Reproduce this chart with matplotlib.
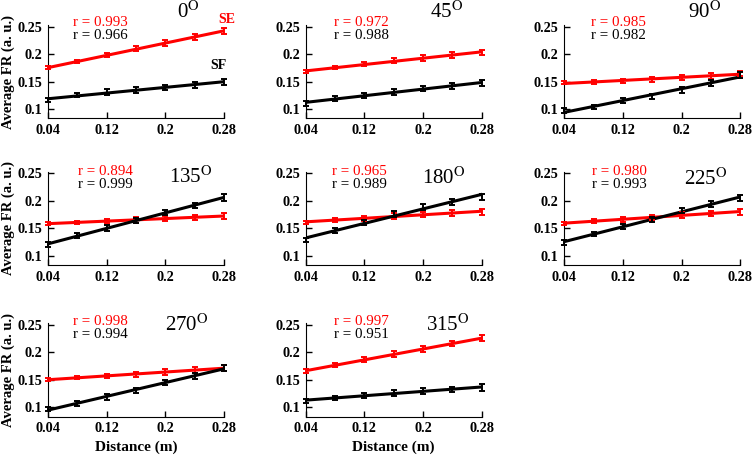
import numpy as np
import matplotlib
matplotlib.use('Agg')
import matplotlib.pyplot as plt

plt.rcParams['font.family'] = 'Liberation Serif'
plt.rcParams['mathtext.fontset'] = 'stix'

distance = [0.04, 0.08, 0.12, 0.16, 0.20, 0.24, 0.28]
angles = ['0', '45', '90', '135', '180', '225', '270', '315']

r_se = ['0.993', '0.972', '0.985', '0.894', '0.965', '0.980', '0.998', '0.997']
r_sf = ['0.966', '0.988', '0.982', '0.999', '0.989', '0.993', '0.994', '0.951']

# mean firing rate per distance, SE (red) and SF (black)
se_0 = [0.175, 0.186, 0.198, 0.210, 0.220, 0.231, 0.242]
sf_0 = [0.116, 0.125, 0.131, 0.135, 0.139, 0.144, 0.149]
se_45 = [0.168, 0.175, 0.182, 0.188, 0.193, 0.198, 0.203]
sf_45 = [0.110, 0.119, 0.125, 0.131, 0.137, 0.142, 0.147]
se_90 = [0.148, 0.149, 0.151, 0.154, 0.157, 0.160, 0.165]
sf_90 = [0.097, 0.104, 0.115, 0.123, 0.135, 0.147, 0.162]
se_135 = [0.158, 0.161, 0.163, 0.165, 0.168, 0.170, 0.172]
sf_135 = [0.120, 0.137, 0.150, 0.164, 0.179, 0.191, 0.206]
se_180 = [0.161, 0.165, 0.168, 0.172, 0.175, 0.178, 0.180]
sf_180 = [0.128, 0.146, 0.160, 0.176, 0.189, 0.198, 0.207]
se_225 = [0.159, 0.163, 0.166, 0.170, 0.174, 0.177, 0.180]
sf_225 = [0.124, 0.140, 0.153, 0.166, 0.182, 0.194, 0.205]
se_270 = [0.151, 0.154, 0.157, 0.160, 0.164, 0.168, 0.172]
sf_270 = [0.097, 0.107, 0.119, 0.131, 0.145, 0.157, 0.172]
se_315 = [0.166, 0.177, 0.187, 0.197, 0.206, 0.216, 0.226]
sf_315 = [0.112, 0.117, 0.122, 0.126, 0.130, 0.133, 0.136]

se_err = [0.003, 0.003, 0.004, 0.005, 0.005, 0.005, 0.005]
sf_err = [0.004, 0.004, 0.005, 0.005, 0.005, 0.005, 0.006]

se_all = [se_0, se_45, se_90, se_135, se_180, se_225, se_270, se_315]
sf_all = [sf_0, sf_45, sf_90, sf_135, sf_180, sf_225, sf_270, sf_315]

xticks = [0.04, 0.12, 0.2, 0.28]
xtick_labels = ['0.04', '0.12', '0.2', '0.28']
yticks = [0.1, 0.15, 0.2, 0.25]
ytick_labels = ['0.1', '0.15', '0.2', '0.25']

fig = plt.figure(figsize=(7.52, 4.58), dpi=100)

lefts = [0.0638, 0.4065, 0.7504]
bottoms = [0.7417, 0.4214, 0.0902]
w, h = 0.234, 0.2037

# where the r values and the angle label sit (axes fraction)
r_x = [0.14, 0.16, 0.15, 0.17, 0.15, 0.16, 0.14, 0.16]
r_y = [(1.03, 0.89), (1.03, 0.89), (1.03, 0.89),
       (1.00, 0.86), (1.00, 0.86), (1.00, 0.86),
       (1.02, 0.88), (1.02, 0.88)]
title_pos = [(0.80, 1.14), (0.80, 1.14), (0.80, 1.14),
             (0.81, 0.945), (0.785, 0.93), (0.805, 0.92),
             (0.79, 0.98), (0.81, 0.98)]

x = np.array(distance)
for i, ang in enumerate(angles):
    row, col = divmod(i, 3)
    ax = fig.add_axes([lefts[col], bottoms[row], w, h])

    for vals, err, c in [(se_all[i], se_err, 'red'), (sf_all[i], sf_err, 'black')]:
        vals = np.array(vals)
        k, b = np.polyfit(x, vals, 1)
        ax.plot([x[0], x[-1]], [k * x[0] + b, k * x[-1] + b], color=c, lw=2.2, zorder=3)
        ax.errorbar(x, vals, yerr=err, fmt='none', ecolor=c, elinewidth=1.4,
                    capsize=2.5, capthick=1.4, zorder=4, clip_on=False)

    ax.set_xlim(0.04, 0.28)
    ax.set_ylim(0.083, 0.253)
    ax.set_xticks(xticks)
    ax.set_xticklabels(xtick_labels)
    ax.set_yticks(yticks)
    ax.set_yticklabels(ytick_labels)
    for lab in ax.get_xticklabels() + ax.get_yticklabels():
        lab.set_fontweight('bold')
        lab.set_fontsize(10.3)
    ax.tick_params(direction='in', length=4, width=1, pad=4)
    ax.spines['top'].set_visible(False)
    ax.spines['right'].set_visible(False)

    ax.text(r_x[i], r_y[i][0], 'r = ' + r_se[i], color='red', fontsize=10.8,
            transform=ax.transAxes, va='center')
    ax.text(r_x[i], r_y[i][1], 'r = ' + r_sf[i], color='black', fontsize=10.8,
            transform=ax.transAxes, va='center')
    tx, ty = title_pos[i]
    ax.text(tx, ty, ang + r'$^{\mathrm{O}}$', fontsize=15,
            transform=ax.transAxes, ha='center', va='center')

    if i == 0:
        ax.text(1.015, 1.064, 'SE', color='red', fontsize=10, fontweight='bold',
                transform=ax.transAxes, ha='center', va='center')
        ax.text(0.97, 0.57, 'SF', color='black', fontsize=10, fontweight='bold',
                transform=ax.transAxes, ha='center', va='center')
    if col == 0:
        ax.set_ylabel('Average FR (a. u.)', fontsize=10.5, fontweight='bold', labelpad=2)
    if row == 2:
        ax.set_xlabel('Distance (m)', fontsize=11, fontweight='bold', labelpad=4)

fig.savefig('out.png', dpi=100)
